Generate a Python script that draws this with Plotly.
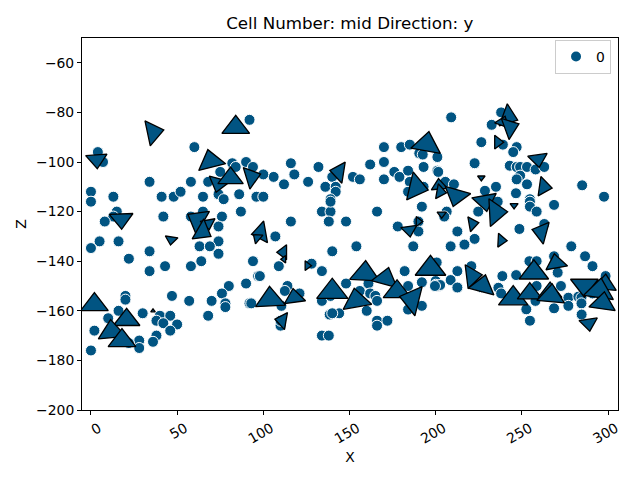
import plotly.graph_objects as go

COLOR = "#015482"

point_x = [92,60,4,7,34,0,0,13,41,48,52,58,65,68,75,82,84,90,94,86,74,96,77,
 15,13,8,42,58,76,65,87,74,74,5,0,16,34,22,63,69,74,64,58,43,34,94,97,90,80,76,47,20,20,57,70,78,78,92,16,30,10,40,38,46,42,50,46,68,2,38,36,28,28,22,0,
 116,132,118,106,100,112,126,140,136,142,142,139,100,152,156,162,170,170,170,180,185,190.5,192.5,176,179,184,193,201,201,185,184,193,
 134,139,139,138,148,166,192,116,107,140,154,178,190,190,187,109,98,128,134,148,182,184,192,200,201.5,200,114,112.5,121,93,110.5,134,139,156,161,162,165,166,160,138.5,144,140,110,110,166,166,172,134,138,184,192,
 209,238,232.5,226.5,239,247,245,201,222.6,243,247,249,253,258,263,201.5,249,247,253,205.6,210.6,235,228.6,246.6,285,297.7,254.7,
 254.7,254.7,258.6,268.7,236,224.7,206.4,205,248.6,263,212.6,222.6,216.7,208.7,278.7,286.7,291,268.7,254.4,258.6,200.6,220.7,212.6,238.7,246.7,208.7,202.6,199.6,212.6,236.4,238,226.7,258.6,272.7,298.6,277,277,282.8,284.6,284.6,268.7,257.9,252.6,254.7,284.7,291,270.8]
point_z = [-83,-94,-96,-100,-108,-112,-116,-114,-114,-114,-112,-108,-114,-108,-104,-100.5,-102,-100,-102,-113,-113,-114,-115,
 -120,-122,-124,-122,-122,-122,-120,-120,-126,-132,-132,-134.7,-132,-136,-139,-134,-134,-137,-140,-142,-142,-144,-140,-146,-149,-150,-153,-154,-154,-155.5,-156,-156,-157,-158.5,-157,-160,-161,-163,-162,-164,-162,-165,-165.5,-168,-162,-168,-170,-172.5,-172,-175,-173,-176,
 -100.5,-102,-105,-106,-105,-109,-108,-106,-110,-110,-112,-115,-114,-106,-107,-101,-94,-100,-107,-94,-93,-96.5,-97,-104,-106,-103.5,-102,-98,-103.5,-108,-112,-110,
 -120,-120,-116,-124,-124,-120,-118,-124,-130,-136,-134,-126,-124,-128,-134,-142,-146,-141,-144,-149,-144,-150,-148.5,-148,-150,-149.5,-150,-152,-153,-157,-158,-156,-154,-152,-149,-153,-154,-156,-160,-161.5,-161,-161,-166,-164,-164,-166,-164,-170,-170,-159.5,-158,
 -82,-80,-85,-92,-93,-94,-96,-98,-100.5,-101.5,-102,-102,-102,-103,-102,-104,-105.5,-107,-109,-108,-109,-110,-111.6,-112.6,-109.4,-114,-115,
 -116,-118,-120,-117.3,-116,-120,-120,-122,-127,-125,-128,-131,-133.3,-134,-134,-138,-142,-138,-140,-140,-140.5,-142,-144,-146,-145.6,-147.6,-149.6,-150,-150.6,-150.7,-153,-150.5,-150,-150,-146,-154.7,-158,-154.3,-154.7,-157,-159,-156,-159.4,-164,-161.5,-153,-144.6]

arrow_x = [3.3,36,84,69.5,74,81,93,17.6,46.6,2,20.7,12,18,36,125.5,104,118,111,140,154,159,171,177.6,186.4,197,184.7,190,203.5,
 236,259.4,226.5,194.8,188.6,62,68,64.6,98.6,96.5,111.6,112,242,239,243,202,212,202.6,228.6,234.8,245.5,221.3,238,261.4,269.8,257,221,227.2,245,254.6,266.4,267,286.3,298.2,295,297,288.8,262.7,143.9]
arrow_z = [-99,-88,-86,-99.7,-108.6,-106.5,-106,-123,-131.3,-157.5,-163.6,-168.4,-172,-160,-141.8,-155.4,-154.7,-163.9,-152.3,-155.9,-145,-147,-152.3,-155.5,-143,-127.4,-124,-121,
 -92,-98.8,-106.3,-92.9,-110.2,-123.4,-124.7,-128,-128.5,-130.6,-136.4,-139.2,-81.7,-84,-86,-109.5,-113.5,-112,-115.7,-120.3,-117.5,-124.9,-131.6,-128.2,-140.8,-144.6,-146,-150,-155,-153,-152.5,-153.9,-149.7,-149.3,-152,-156.9,-165,-110,-104]
arrow_angle = [176,78,0,-14,195,0,73,178,188,0,0,-5,0,0,90,-3,-8,-80,0,-10,3,15,0,-76,0,172,90,180,
 90,172,180,10,103,-60,170,120,-100,-50,-90,-90,110,20,70,-5,196,100,170,87,180,80,93,-75,-10,0,83,15,0,0,0,5,180,5,8,8,172,98,-81]
arrow_size = [18.5,22,24,24,18.5,22,19.5,20.5,11,24,23,24,24,4,8.5,26,18.5,15,27,25,26,23,24,26,26.5,14,8.5,8,
 12,17,6.5,26,25,23,13,20,19,10,13,6.5,20.5,13,19.5,14,23,13,21.5,24,7,13,12,19.5,19,25.5,21,23,25.5,21.5,20.5,24,24,20.5,26,23,16,17,18.5]

tick_x = [0, 50, 100, 150, 200, 250, 300]
tick_z = [-60, -80, -100, -120, -140, -160, -180, -200]

fig = go.Figure()
fig.add_trace(go.Scatter(
    x=point_x, y=point_z, mode="markers", name="0",
    marker=dict(color=COLOR, size=11, opacity=1, line=dict(color="white", width=1)),
))
fig.add_trace(go.Scatter(
    x=arrow_x, y=arrow_z, mode="markers", showlegend=False,
    marker=dict(color=COLOR, symbol="triangle-up", size=arrow_size, angle=arrow_angle, opacity=1,
                line=dict(color="black", width=1.3)),
))

axis = dict(showgrid=False, zeroline=False, showline=True, mirror=True, linecolor="black",
            linewidth=1, ticks="outside", ticklen=4, tickwidth=1, tickcolor="black",
            automargin=False, tickfont=dict(size=13.9, color="black"))
fig.update_layout(
    width=640, height=480,
    margin=dict(l=74, r=30, t=30, b=78),
    paper_bgcolor="white", plot_bgcolor="white",
    font=dict(family="DejaVu Sans", color="black"),
    title=dict(text="Cell Number: mid Direction: y", font=dict(size=16.7, color="black"),
               x=0.534, xanchor="center", y=0.969, yanchor="middle", automargin=False),
    xaxis=dict(axis, title=dict(text="X", font=dict(size=13.9), standoff=6), range=[-5.2, 305.8],
               tickvals=tick_x, tickangle=-30, ticklabelshift=8),
    yaxis=dict(axis, title=dict(text="Z", font=dict(size=13.9), standoff=6), range=[-200, -50],
               tickvals=tick_z),
    legend=dict(x=0.987, xanchor="right", y=0.949, yanchor="middle", bgcolor="rgba(255,255,255,0.8)",
                bordercolor="#cccccc", borderwidth=1, font=dict(size=13.9), itemsizing="constant"),
)
fig.write_html("out.html")
